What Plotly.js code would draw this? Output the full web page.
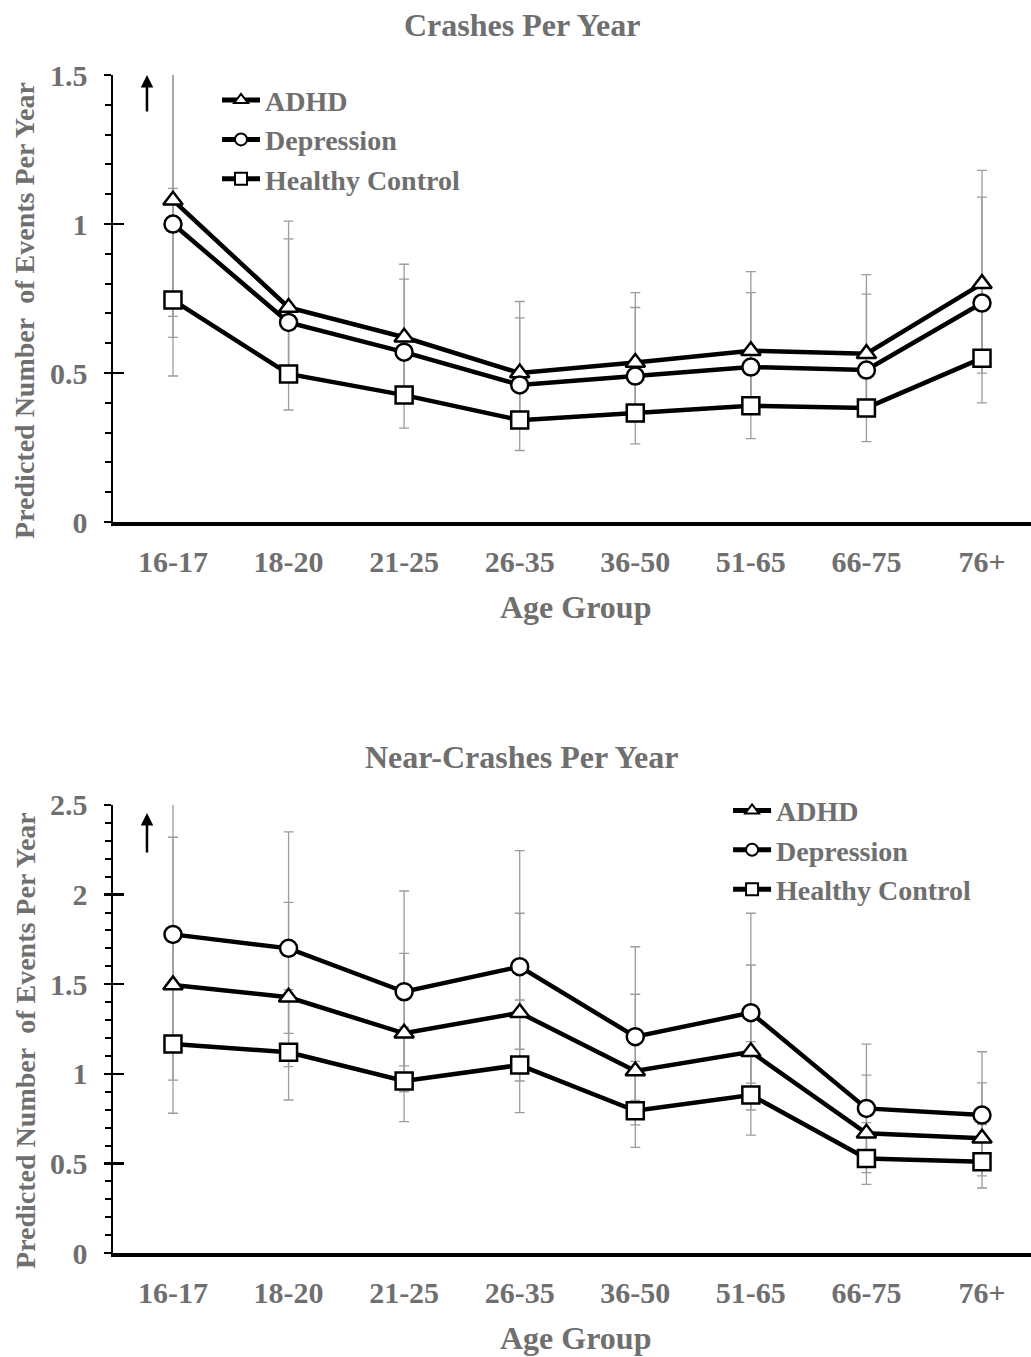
<!DOCTYPE html>
<html>
<head>
<meta charset="utf-8">
<script src="https://cdn.plot.ly/plotly-3.0.1.min.js"></script>
<style>html,body{margin:0;padding:0;background:#fff;}#chart{width:1031px;height:1357px;}</style>
</head>
<body>
<div id="chart"></div>
<script>
// ---------- data ----------
const ageGroups = ['16-17', '18-20', '21-25', '26-35', '36-50', '51-65', '66-75', '76+'];
const seriesNames = ['ADHD', 'Depression', 'Healthy Control'];

// Crashes per year (predicted values, lower and upper CI bounds)
const crashADHD     = [1.08, 0.72, 0.62, 0.50, 0.535, 0.575, 0.565, 0.80];
const crashADHDLow  = [0.69, 0.51, 0.44, 0.34, 0.375, 0.395, 0.385, 0.54];
const crashADHDHigh = [1.69, 1.01, 0.865, 0.74, 0.77, 0.84, 0.83, 1.18];
const crashDep      = [1.00, 0.67, 0.57, 0.46, 0.49, 0.52, 0.51, 0.735];
const crashDepLow   = [0.62, 0.47, 0.40, 0.33, 0.345, 0.365, 0.355, 0.50];
const crashDepHigh  = [1.61, 0.95, 0.815, 0.685, 0.72, 0.77, 0.765, 1.09];
const crashHC       = [0.745, 0.497, 0.426, 0.342, 0.366, 0.39, 0.383, 0.55];
const crashHCLow    = [0.49, 0.376, 0.315, 0.24, 0.262, 0.28, 0.27, 0.40];
const crashHCHigh   = [1.12, 0.655, 0.575, 0.487, 0.51, 0.54, 0.53, 0.755];

// Near-crashes per year
const nearADHD     = [1.496, 1.427, 1.226, 1.341, 1.016, 1.123, 0.668, 0.64];
const nearADHDLow  = [0.965, 1.04, 0.90, 0.96, 0.715, 0.798, 0.449, 0.431];
const nearADHDHigh = [2.32, 1.957, 1.672, 1.896, 1.444, 1.607, 0.993, 0.95];
const nearDep      = [1.778, 1.70, 1.458, 1.598, 1.207, 1.341, 0.807, 0.77];
const nearDepLow   = [1.147, 1.226, 1.044, 1.137, 0.852, 0.948, 0.559, 0.528];
const nearDepHigh  = [2.76, 2.35, 2.02, 2.245, 1.709, 1.896, 1.166, 1.123];
const nearHC       = [1.166, 1.12, 0.96, 1.049, 0.794, 0.882, 0.528, 0.51];
const nearHCLow    = [0.78, 0.854, 0.733, 0.783, 0.59, 0.658, 0.383, 0.363];
const nearHCHigh   = [1.74, 1.47, 1.26, 1.412, 1.069, 1.18, 0.728, 0.716];

// ---------- styling ----------
const FONT = 'Liberation Serif, Times New Roman, serif';
const GRAY = '#6f6f6f';
const symbols = ['triangle-up', 'circle', 'square'];

function errTrace(vals, lo, hi, xa, ya) {
  return {
    type: 'scatter', mode: 'markers', x: ageGroups, y: vals,
    xaxis: xa, yaxis: ya, showlegend: false, hoverinfo: 'skip',
    marker: {size: 2, opacity: 0},
    error_y: {
      type: 'data', symmetric: false,
      array: hi.map((h, i) => h - vals[i]),
      arrayminus: lo.map((l, i) => vals[i] - l),
      color: '#9c9c9c', thickness: 1.3, width: 5
    }
  };
}
function lineTrace(vals, k, xa, ya, leg) {
  return {
    type: 'scatter', mode: 'lines+markers', x: ageGroups, y: vals,
    xaxis: xa, yaxis: ya, name: seriesNames[k], legend: leg,
    legendgroup: leg + k, hoverinfo: 'skip',
    line: {color: '#000', width: 4.5},
    marker: {symbol: symbols[k], size: 17, color: '#fff', line: {color: '#000', width: 2.5}}
  };
}

const data = [
  errTrace(crashHC, crashHCLow, crashHCHigh, 'x', 'y'),
  errTrace(crashDep, crashDepLow, crashDepHigh, 'x', 'y'),
  errTrace(crashADHD, crashADHDLow, crashADHDHigh, 'x', 'y'),
  errTrace(nearHC, nearHCLow, nearHCHigh, 'x2', 'y2'),
  errTrace(nearDep, nearDepLow, nearDepHigh, 'x2', 'y2'),
  errTrace(nearADHD, nearADHDLow, nearADHDHigh, 'x2', 'y2'),
  lineTrace(crashADHD, 0, 'x', 'y3', 'legend'),
  lineTrace(crashDep, 1, 'x', 'y3', 'legend'),
  lineTrace(crashHC, 2, 'x', 'y3', 'legend'),
  lineTrace(nearADHD, 0, 'x2', 'y4', 'legend2'),
  lineTrace(nearDep, 1, 'x2', 'y4', 'legend2'),
  lineTrace(nearHC, 2, 'x2', 'y4', 'legend2')
];

const tickFont = {family: FONT, size: 30, color: GRAY, weight: 'bold'};
const xRange = [-0.519, 7.424];
const topDom = [0.6153, 0.9447];
const botDom = [0.0766, 0.4068];

function xAxis(anchor) {
  return {
    anchor: anchor, domain: [0, 1], range: xRange, type: 'category',
    showline: true, linecolor: '#000', linewidth: 3.5, ticks: '',
    showgrid: false, zeroline: false, tickfont: tickFont, ticklabelstandoff: 10
  };
}
function yAxis(dom, rng) {
  return {
    anchor: dom === topDom ? 'x' : 'x2', domain: dom, range: rng, dtick: 0.5,
    showline: true, linecolor: '#000', linewidth: 2.5,
    ticks: 'outside', ticklen: 7, tickwidth: 2.5, tickcolor: '#000',
    minor: {dtick: 0.1, ticks: 'outside', ticklen: 6, tickwidth: 2, tickcolor: '#000'},
    showgrid: false, zeroline: false, tickfont: tickFont, ticklabelstandoff: 10
  };
}
function yOver(base, anchor, rng) {
  return {
    overlaying: base, anchor: anchor, range: rng, dtick: 0.5,
    showline: false, showticklabels: false, showgrid: false, zeroline: false,
    ticks: 'inside', ticklen: 11, tickwidth: 2.5, tickcolor: '#000'
  };
}

const legendFont = {family: FONT, size: 28, color: GRAY, weight: 'bold'};
const titleFont = {family: FONT, size: 32, color: GRAY, weight: 'bold'};
const yTitleFont = {family: FONT, size: 28, color: GRAY, weight: 'bold'};
const layout = {
  width: 1031, height: 1357,
  margin: {l: 113, r: 0, t: 0, b: 0},
  paper_bgcolor: '#fff', plot_bgcolor: '#fff',
  font: {family: FONT, color: GRAY},
  showlegend: true,
  xaxis: xAxis('y'),
  xaxis2: xAxis('y2'),
  yaxis: yAxis(topDom, [0, 1.5]),
  yaxis2: yAxis(botDom, [0, 2.5]),
  yaxis3: yOver('y', 'x', [0, 1.5]),
  yaxis4: yOver('y2', 'x2', [0, 2.5]),
  legend: {x: 0.1133, y: 0.9445, xanchor: 'left', yanchor: 'top', bgcolor: 'rgba(0,0,0,0)',
           font: legendFont, traceorder: 'grouped', tracegroupgap: 0, itemsizing: 'constant',
           itemwidth: 38},
  legend2: {x: 0.670, y: 0.4210, xanchor: 'left', yanchor: 'top', bgcolor: 'rgba(0,0,0,0)',
            font: legendFont, traceorder: 'grouped', tracegroupgap: 0, itemsizing: 'constant',
            itemwidth: 38},
  annotations: [
    {text: 'Crashes Per Year', xref: 'paper', yref: 'paper', x: 0.445, y: 0.9816,
     xanchor: 'center', yanchor: 'middle', showarrow: false, font: titleFont},
    {text: 'Near-Crashes Per Year', xref: 'paper', yref: 'paper', x: 0.445, y: 0.4422,
     xanchor: 'center', yanchor: 'middle', showarrow: false, font: titleFont},
    {text: 'Age Group', xref: 'paper', yref: 'paper', x: 0.504, y: 0.5527,
     xanchor: 'center', yanchor: 'middle', showarrow: false, font: titleFont},
    {text: 'Age Group', xref: 'paper', yref: 'paper', x: 0.504, y: 0.014,
     xanchor: 'center', yanchor: 'middle', showarrow: false, font: titleFont},
    {text: 'Predicted Number&nbsp; of Events Per Year', xref: 'paper', yref: 'paper',
     x: -0.0959, y: 0.7716, xanchor: 'center', yanchor: 'middle', textangle: -90,
     showarrow: false, font: yTitleFont},
    {text: 'Predicted Number&nbsp; of Events Per Year', xref: 'paper', yref: 'paper',
     x: -0.0959, y: 0.2336, xanchor: 'center', yanchor: 'middle', textangle: -90,
     showarrow: false, font: yTitleFont},
    {text: '', xref: 'x', yref: 'y', x: -0.225, y: 1.5, ax: 0, ay: 38,
     showarrow: true, arrowhead: 2, arrowsize: 1, arrowwidth: 2.5, arrowcolor: '#000'},
    {text: '', xref: 'x2', yref: 'y2', x: -0.225, y: 2.455, ax: 0, ay: 41,
     showarrow: true, arrowhead: 2, arrowsize: 1, arrowwidth: 2.5, arrowcolor: '#000'}
  ]
};

Plotly.newPlot('chart', data, layout, {displayModeBar: false, staticPlot: true});
</script>
</body>
</html>
